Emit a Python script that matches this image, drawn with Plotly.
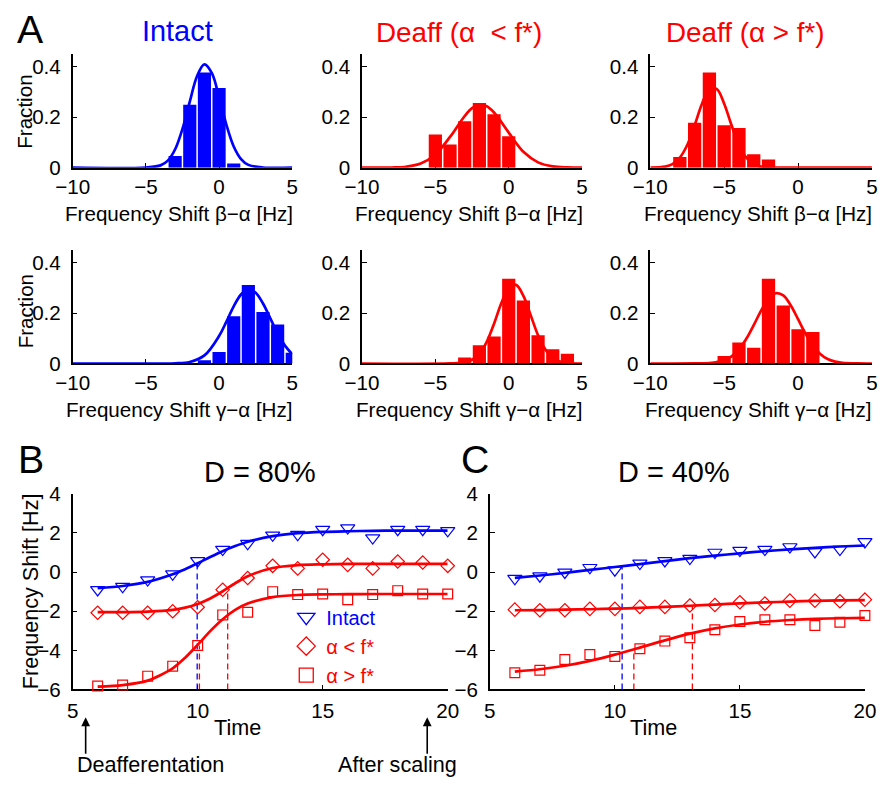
import plotly.graph_objects as go

W, H = 896, 786
BLUE = "#0000ff"
RED = "#ff0000"
FONT = "Liberation Sans, Arial, Helvetica, sans-serif"

# ---------------- Panel A : histograms (bin centres, fractions) ----------------
intact_beta_x = [-3, -2, -1, 0, 1]
intact_beta_y = [0.046, 0.25, 0.378, 0.316, 0.016]
deaff_lo_beta_x = [-5, -4, -3, -2, -1, 0]
deaff_lo_beta_y = [0.132, 0.092, 0.184, 0.257, 0.212, 0.125]
deaff_hi_beta_x = [-8, -7, -6, -5, -4, -3, -2]
deaff_hi_beta_y = [0.042, 0.178, 0.378, 0.168, 0.157, 0.053, 0.032]
intact_gamma_x = [-1, 0, 1, 2, 3, 4, 5]
intact_gamma_y = [0.013, 0.046, 0.188, 0.312, 0.204, 0.155, 0.043]
deaff_lo_gamma_x = [-3, -2, -1, 0, 1, 2, 3, 4]
deaff_lo_gamma_y = [0.024, 0.072, 0.107, 0.336, 0.25, 0.112, 0.057, 0.039]
deaff_hi_gamma_x = [-5, -4, -3, -2, -1, 0, 1]
deaff_hi_gamma_y = [0.03, 0.083, 0.062, 0.336, 0.23, 0.136, 0.125]

# Gaussian fit curves
intact_beta_fit_x = [-10, -5, -4, -3.5, -3, -2.5, -2, -1.5, -1, -0.5, 0, 0.5, 1, 1.5, 2, 3, 5]
intact_beta_fit_y = [0, 0.0005, 0.009, 0.028, 0.073, 0.154, 0.262, 0.364, 0.41, 0.376, 0.28, 0.17, 0.084, 0.034, 0.011, 0.0006, 0]
deaff_lo_beta_fit_x = [-10, -8, -7, -6, -5, -4, -3, -2.5, -2, -1.5, -1, 0, 1, 2, 3, 4, 5]
deaff_lo_beta_fit_y = [0, 0.0006, 0.0036, 0.016, 0.052, 0.122, 0.205, 0.236, 0.25, 0.244, 0.219, 0.139, 0.063, 0.021, 0.005, 0.0009, 0.0001]
deaff_hi_beta_fit_x = [-10, -9, -8.5, -8, -7.5, -7, -6.5, -6, -5.5, -5, -4.5, -4, -3.5, -3, -2.5, -2, 0, 5]
deaff_hi_beta_fit_y = [0.0002, 0.004, 0.014, 0.04, 0.09, 0.168, 0.254, 0.312, 0.312, 0.254, 0.168, 0.09, 0.04, 0.014, 0.004, 0.001, 0, 0]
intact_gamma_fit_x = [-10, -4, -3, -2, -1, 0, 0.5, 1, 1.5, 2, 2.5, 3, 3.5, 4, 4.5, 5]
intact_gamma_fit_y = [0, 0, 0.0007, 0.006, 0.032, 0.109, 0.166, 0.227, 0.274, 0.295, 0.281, 0.238, 0.179, 0.119, 0.071, 0.037]
deaff_lo_gamma_fit_x = [-10, -4, -3, -2.5, -2, -1.5, -1, -0.5, 0, 0.5, 1, 1.5, 2, 2.5, 3, 3.5, 4, 5]
deaff_lo_gamma_fit_y = [0, 0.0002, 0.0045, 0.015, 0.039, 0.086, 0.158, 0.24, 0.301, 0.312, 0.268, 0.191, 0.112, 0.055, 0.022, 0.0074, 0.002, 0]
deaff_hi_gamma_fit_x = [-10, -7, -6, -5, -4.5, -4, -3.5, -3, -2.5, -2, -1.5, -1, -0.5, 0, 0.5, 1, 1.5, 2, 2.5, 3, 4, 5]
deaff_hi_gamma_fit_y = [0, 0.0002, 0.0018, 0.0128, 0.028, 0.056, 0.098, 0.152, 0.21, 0.257, 0.279, 0.27, 0.231, 0.176, 0.119, 0.071, 0.038, 0.018, 0.0075, 0.003, 0.0003, 0]

hist_ticks_x = [-10, -5, 0, 5]
hist_ticks_y = [0, 0.2, 0.4]
hist_ticktext_y = ["0", "0.2", "0.4"]

# ---------------- Panels B and C : time courses ----------------
time = [6, 7, 8, 9, 10, 11, 12, 13, 14, 15, 16, 17, 18, 19, 20]
B_intact = [-0.9, -0.74, -0.4, -0.1, 0.58, 1.16, 1.46, 1.89, 1.92, 2.18, 2.26, 1.75, 2.18, 2.18, 2.12]
B_lo = [-2.08, -2.08, -2.08, -2.0, -1.8, -0.9, -0.3, 0.32, 0.19, 0.63, 0.37, 0.19, 0.54, 0.49, 0.32]
B_hi = [-5.83, -5.78, -5.32, -4.81, -3.75, -2.19, -2.05, -1.0, -1.15, -1.12, -1.41, -1.15, -0.95, -1.12, -1.12]
C_intact = [-0.33, -0.2, -0.01, 0.23, 0.11, 0.45, 0.58, 0.7, 1.01, 1.11, 1.16, 1.29, 1.04, 1.16, 1.55]
C_lo = [-1.92, -1.95, -1.95, -1.88, -1.88, -1.78, -1.78, -1.71, -1.68, -1.54, -1.61, -1.46, -1.46, -1.49, -1.41]
C_hi = [-5.15, -5.02, -4.47, -4.22, -4.31, -3.92, -3.53, -3.36, -2.95, -2.53, -2.44, -2.44, -2.73, -2.56, -2.22]

# fitted curves
B_fit_t = [6, 7, 8, 9, 9.5, 10, 10.5, 11, 11.5, 12, 13, 14, 15, 16, 17, 18, 19, 20]
B_intact_fit = [-0.82, -0.71, -0.5, -0.11, 0.15, 0.45, 0.77, 1.07, 1.33, 1.55, 1.84, 1.99, 2.06, 2.09, 2.11, 2.12, 2.12, 2.12]
B_lo_fit = [-2.05, -2.05, -2.02, -1.93, -1.82, -1.63, -1.35, -0.98, -0.57, -0.21, 0.21, 0.36, 0.4, 0.42, 0.42, 0.42, 0.42, 0.42]
B_hi_fit = [-5.86, -5.78, -5.55, -4.92, -4.38, -3.72, -3.02, -2.41, -1.93, -1.61, -1.28, -1.17, -1.14, -1.13, -1.12, -1.12, -1.12, -1.12]
C_fit_t = time
C_intact_fit = [-0.3, -0.175, -0.04, 0.11, 0.26, 0.41, 0.56, 0.71, 0.84, 0.96, 1.07, 1.16, 1.24, 1.31, 1.36]
C_lo_fit = [-1.95, -1.94, -1.92, -1.9, -1.87, -1.83, -1.78, -1.72, -1.66, -1.6, -1.55, -1.51, -1.47, -1.45, -1.43]
C_hi_fit = [-5.09, -4.97, -4.79, -4.54, -4.22, -3.86, -3.49, -3.15, -2.88, -2.68, -2.54, -2.45, -2.39, -2.36, -2.34]

# half-way times (dashed markers) and the curve value reached there
B_half_t = [9.98, 10.07, 11.2]
B_half_v = [0.45, -3.76, -0.85]
C_half_t = [10.29, 10.76, 13.1]
C_half_v = [0.25, -4.0, -1.72]
half_colors = [BLUE, RED, RED]

time_ticks_x = [5, 10, 15, 20]
time_ticks_y = [-6, -4, -2, 0, 2, 4]

# annotation arrows in panel B (time of the arrow, in data units)
arrow_times = [5.52, 19.18]
arrow_labels = ["Deafferentation", "After scaling"]

# ---------------- layout helpers ----------------
# the photographed page appears slightly shrunk and shifted; place items so that
# they land where the reference shows them
SX, OX = 0.966, 17.5
SY, OY = 0.973, 12.0
K = 1 / 0.97


def fxp(P):
    return (P - OX) / SX


def fyp(P):
    return (P - OY) / SY


def px_x(P):
    return fxp(P) / W


def px_y(P):
    return 1 - fyp(P) / H


def fs(v):
    return round(v * K, 1)


def axis(domain, rng, tickvals, ticktext=None, anchor=None, standoff=4):
    d = dict(domain=domain, range=rng, tickvals=tickvals, showline=True,
             linecolor="black", linewidth=1.5, ticks="inside", ticklen=5,
             tickwidth=1.2, tickcolor="black", showgrid=False, zeroline=False,
             tickfont=dict(size=fs(20), color="black", family=FONT),
             layer="below traces", anchor=anchor, ticklabelstandoff=standoff,
             fixedrange=True)
    if ticktext is not None:
        d["ticktext"] = ticktext
    return d


fig = go.Figure()
layout = {}

hist_cols = [(73, 292), (361.5, 581), (649, 870)]
hist_rows = [(54.4, 168), (250.7, 364.3)]
hists = [
    (intact_beta_x, intact_beta_y, intact_beta_fit_x, intact_beta_fit_y, BLUE),
    (deaff_lo_beta_x, deaff_lo_beta_y, deaff_lo_beta_fit_x, deaff_lo_beta_fit_y, RED),
    (deaff_hi_beta_x, deaff_hi_beta_y, deaff_hi_beta_fit_x, deaff_hi_beta_fit_y, RED),
    (intact_gamma_x, intact_gamma_y, intact_gamma_fit_x, intact_gamma_fit_y, BLUE),
    (deaff_lo_gamma_x, deaff_lo_gamma_y, deaff_lo_gamma_fit_x, deaff_lo_gamma_fit_y, RED),
    (deaff_hi_gamma_x, deaff_hi_gamma_y, deaff_hi_gamma_fit_x, deaff_hi_gamma_fit_y, RED),
]

for i, (bx, by, fx, fy, col) in enumerate(hists):
    r, c = divmod(i, 3)
    n = i + 1
    xs = "x" if n == 1 else f"x{n}"
    ys = "y" if n == 1 else f"y{n}"
    x0, x1 = hist_cols[c]
    y0, y1 = hist_rows[r]
    layout["xaxis" if n == 1 else f"xaxis{n}"] = axis(
        [px_x(x0), px_x(x1)], [-10, 5], hist_ticks_x, anchor=ys, standoff=0)
    layout["yaxis" if n == 1 else f"yaxis{n}"] = axis(
        [px_y(y1), px_y(y0)], [0, 0.45], hist_ticks_y, hist_ticktext_y,
        anchor=xs, standoff=6)
    fig.add_trace(go.Bar(x=bx, y=by, width=0.9, marker=dict(color=col, line=dict(width=0)),
                         xaxis=xs, yaxis=ys, showlegend=False))
    fig.add_trace(go.Scatter(x=fx, y=fy, mode="lines", line=dict(color=col, width=2.7, shape="spline", smoothing=1),
                             xaxis=xs, yaxis=ys, showlegend=False, cliponaxis=False))

# B and C axes
layout["xaxis7"] = axis([px_x(73), px_x(447)], [5, 20], time_ticks_x, anchor="y7", standoff=2)
layout["yaxis7"] = axis([px_y(691), px_y(495)], [-6, 4], time_ticks_y, anchor="x7", standoff=6)
layout["xaxis8"] = axis([px_x(489), px_x(863)], [5, 20], time_ticks_x, anchor="y8", standoff=2)
layout["yaxis8"] = axis([px_y(691), px_y(495)], [-6, 4], time_ticks_y, anchor="x8", standoff=6)

series = [
    ("x7", "y7", B_fit_t, B_intact_fit, B_lo_fit, B_hi_fit, B_intact, B_lo, B_hi, B_half_t, B_half_v),
    ("x8", "y8", C_fit_t, C_intact_fit, C_lo_fit, C_hi_fit, C_intact, C_lo, C_hi, C_half_t, C_half_v),
]
for xs, ys, ft, fi, fl, fh, mi, ml, mh, ht, hv in series:
    for t, v, col in zip(ht, hv, half_colors):
        fig.add_trace(go.Scatter(x=[t, t], y=[-6, v], mode="lines",
                                 line=dict(color=col, width=1.3, dash="6px,4px"),
                                 xaxis=xs, yaxis=ys, showlegend=False))
    for fy, col in [(fi, BLUE), (fl, RED), (fh, RED)]:
        fig.add_trace(go.Scatter(x=ft, y=fy, mode="lines", line=dict(color=col, width=2.7, shape="spline", smoothing=0.8),
                                 xaxis=xs, yaxis=ys, showlegend=False, cliponaxis=False))
    for my, col, sym, sz in [(mi, BLUE, "triangle-down-open", 12), (ml, RED, "diamond-open", 10), (mh, RED, "square-open", 9.5)]:
        fig.add_trace(go.Scatter(x=time, y=my, mode="markers",
                                 marker=dict(symbol=sym, size=fs(sz), color=col, line=dict(width=1.2, color=col)),
                                 xaxis=xs, yaxis=ys, showlegend=False, cliponaxis=False))

# legend entries (legend-only traces)
legend_names = ["Intact", "α < f*", "α > f*"]
legend_syms = ["triangle-down-open", "diamond-open", "square-open"]
legend_cols = [BLUE, RED, RED]
legend_sizes = [15, 14, 14]
for nm, sym, col, sz in zip(legend_names, legend_syms, legend_cols, legend_sizes):
    fig.add_trace(go.Scatter(x=[None], y=[None], mode="markers", xaxis="x7", yaxis="y7",
                             name=f'<span style="color:{col}">{nm}</span>',
                             marker=dict(symbol=sym, size=sz, color=col, line=dict(width=1.3, color=col))))

ann = []


def text(s, x, y, size, color="black", angle=0):
    ann.append(dict(text=s, x=px_x(x), y=px_y(y), xref="paper", yref="paper",
                    xanchor="center", yanchor="middle", showarrow=False, textangle=angle,
                    font=dict(size=fs(size), color=color, family=FONT)))


text("A", 31, 30, 38)
text("B", 31, 461, 38)
text("C", 474, 461, 38)
text("Intact", 178, 31, 28, BLUE)
text("Deaff (α\u00a0 < f*)", 458, 33, 27, RED)
text("Deaff (α > f*)", 743, 33, 27, RED)
for r, yy in enumerate([112, 312]):
    text("Fraction", 25.5, yy, 20, angle=-90)
for c, (x0, x1) in enumerate(hist_cols):
    text("Frequency Shift β−α [Hz]", (x0 + x1) / 2 - 3, 214, 20)
    text("Frequency Shift γ−α [Hz]", (x0 + x1) / 2 - 3, 410, 20)
text("D = 80%", 260, 473, 28)
text("D = 40%", 673, 473, 28)
text("Frequency Shift [Hz]", 31, 593, 21, angle=-90)
text("Time", 237, 729, 21)
text("Time", 652, 729, 21)
text(arrow_labels[0], 151, 766, 21)
text(arrow_labels[1], 397, 766, 21)

# arrows in panel B, positioned in the x7/y7 domain frame (tip just below the axis labels)
tip_frac = (691 - 719) / 196.0
tail_frac = (691 - 757) / 196.0
for t in arrow_times:
    xf = (t - 5) / 15.0
    ann.append(dict(text="", x=xf, y=tip_frac, xref="x7 domain", yref="y7 domain",
                    ax=xf, ay=tail_frac, axref="x7 domain", ayref="y7 domain",
                    showarrow=True, arrowhead=2, arrowsize=1.1, arrowwidth=1.6,
                    arrowcolor="black", standoff=0, startstandoff=0))

fig.update_layout(
    width=W, height=H, margin=dict(l=0, r=0, t=0, b=0),
    paper_bgcolor="white", plot_bgcolor="white",
    font=dict(family=FONT, color="black"),
    barmode="overlay", annotations=ann,
    legend=dict(x=px_x(286), y=px_y(599), xanchor="left", yanchor="top",
                font=dict(size=20, family=FONT), bgcolor="rgba(0,0,0,0)",
                itemsizing="trace", tracegroupgap=0, borderwidth=0),
    **layout,
)

fig.write_html("out.html", config={"responsive": False})
